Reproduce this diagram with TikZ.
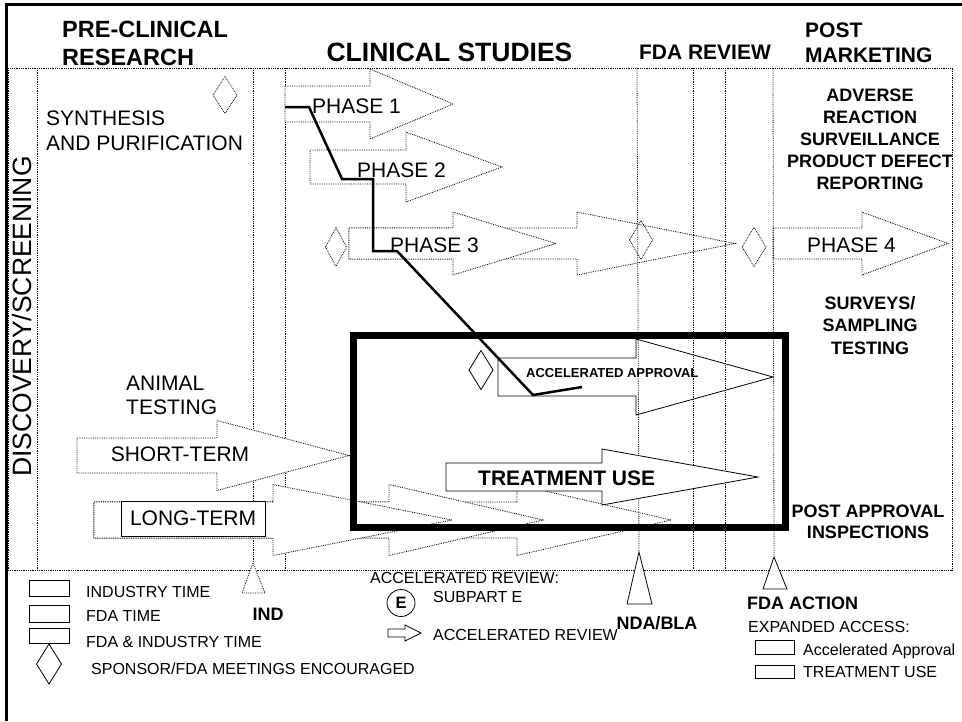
\documentclass[tikz,border=0pt]{standalone}
\usepackage{fontspec}
\setmainfont{Liberation Sans}

% block arrow: [style]{left}{neck}{tip}{centre y}{half body}{half head}
\newcommand{\blockarrow}[7][]{%
  \draw[#1] (#2,#5-#6) -- (#3,#5-#6) -- (#3,#5-#7) -- (#4,#5)
    -- (#3,#5+#7) -- (#3,#5+#6) -- (#2,#5+#6) -- cycle;}
% meeting diamond: [style]{x}{y}{width}{height}
\newcommand{\meetdiamond}[5][]{%
  \draw[#1] (#2-#4/2,#3) -- (#2,#3-#5/2) -- (#2+#4/2,#3) -- (#2,#3+#5/2) -- cycle;}

\begin{document}
\begin{tikzpicture}
  [x=1pt, y=-1pt,
   txt/.style={inner sep=0pt, font=\fontsize{21}{25}\selectfont},
   head/.style={inner sep=0pt, font=\bfseries\fontsize{21}{25}\selectfont},
   bold/.style={inner sep=0pt, align=center, font=\bfseries\fontsize{18}{22}\selectfont},
   legend/.style={inner sep=0pt, anchor=west, font=\fontsize{16}{19}\selectfont},
   grid/.style={densely dotted, line width=0.8pt},
   dotarrow/.style={densely dotted, line width=0.8pt, fill=white},
   fullarrow/.style={line width=0.8pt, fill=white},
   box/.style={line width=0.8pt},
   stair/.style={line width=2.5pt},
   frame/.style={line width=3pt}]

  \useasboundingbox (0,0) rectangle (962,721);

  % frame and columns
  \draw[frame] (6.5,721) -- (6.5,4.5) -- (962,4.5);
  \draw[grid] (8,68) rectangle (952,570);
  \draw[grid] (37,68) -- (37,570);
  \coordinate (ind) at (253,563);
  \coordinate (nda) at (639,552);
  \coordinate (fdaact) at (774,557);
  \draw[grid] (253,68) -- (ind);
  \draw[grid] (285,68) -- (285,570);

  % phases
  \blockarrow[dotarrow]{285}{370}{453}{104}{18}{35}
  \blockarrow[dotarrow]{310}{406}{502}{167}{17}{35}
  \blockarrow[dotarrow]{349}{577}{735}{243.5}{15.5}{31.5}
  \blockarrow[dotarrow]{349}{453}{556}{243.5}{15.5}{31.5}
  \blockarrow[dotarrow]{773}{862}{948}{243.5}{15.5}{31.5}

  % animal testing
  \blockarrow[dotarrow]{77}{217}{349}{455.5}{17.5}{35}
  \blockarrow[dotarrow]{94}{517}{671}{520}{18}{35.5}
  \blockarrow[dotarrow]{94}{389}{543}{520}{18}{35.5}
  \blockarrow[dotarrow]{94}{273}{452}{520}{18}{35.5}
  \draw[box, fill=white] (121,501) rectangle (265,536);

  % accelerated approval
  \blockarrow[fullarrow]{498}{636}{773}{377}{19}{38}

  % fda review
  \draw[grid] (637,68) -- (nda);
  \draw[grid] (693,68) -- (693,570);
  \draw[grid] (725,68) -- (725,570);
  \draw[grid] (773,68) -- (fdaact);

  % treatment use
  \blockarrow[fullarrow]{446}{602}{758}{477}{14}{28}

  % meetings
  \meetdiamond[grid]{225}{95}{24}{37}
  \meetdiamond[grid]{336}{247}{21}{39}
  \meetdiamond[grid]{641}{240}{23}{39}
  \meetdiamond[grid]{754}{247}{24}{39}
  \meetdiamond[box, fill=white]{481}{370}{24}{39}

  \draw[line width=7pt] (353,335) rectangle (785,527);
  \draw[stair] (285,107) -- (309,107) -- (342,179) -- (373,179) -- (373,251)
    -- (397,251) -- (533,395) -- (582,387);

  % headings
  \node[head, anchor=west, align=left, font=\bfseries\fontsize{23.5}{28}\selectfont] (precl) at (62,43) {PRE-CLINICAL\\RESEARCH};
  \node[head, font=\bfseries\fontsize{26.5}{30}\selectfont] (clin) at (449.5,52) {CLINICAL STUDIES};
  \node[head] (fdarev) at (705,52) {FDA REVIEW};
  \node[head, anchor=west, align=left] (postm) at (805,42.5) {POST\\MARKETING};
  \node[txt, rotate=90, font=\fontsize{26.5}{30}\selectfont] (disc) at (22.5,316.5) {DISCOVERY/SCREENING};

  \node[txt, anchor=west, align=left] (synth) at (46,130.5) {SYNTHESIS\\AND PURIFICATION};
  \node[txt, anchor=west, align=left, font=\fontsize{21}{24}\selectfont] (animal) at (126,395) {ANIMAL\\TESTING};
  \node[txt] (short) at (180,454) {SHORT-TERM};
  \node[txt] (long) at (193,518) {LONG-TERM};
  \node[txt, anchor=west] (ph1) at (312,106) {PHASE 1};
  \node[txt, anchor=west] (ph2) at (357,170) {PHASE 2};
  \node[txt, anchor=west] (ph3) at (390,245) {PHASE 3};
  \node[txt, anchor=west] (ph4) at (807,245) {PHASE 4};
  \node[inner sep=0pt, anchor=west, font=\bfseries\fontsize{13}{15}\selectfont] (accel) at (526,373) {ACCELERATED APPROVAL};
  \node[head, anchor=west] (treat) at (478,478) {TREATMENT USE};

  \node[bold] (adverse) at (870,139) {ADVERSE\\REACTION\\SURVEILLANCE\\PRODUCT DEFECT\\REPORTING};
  \node[bold, font=\bfseries\fontsize{18}{22.5}\selectfont] (survey) at (870,325.5) {SURVEYS/\\SAMPLING\\TESTING};
  \node[bold, font=\bfseries\fontsize{18}{21}\selectfont] (inspect) at (868,521.5) {POST APPROVAL\\INSPECTIONS};

  % legend
  \draw[box] (29,580) rectangle (69,596);
  \draw[box] (29,605) rectangle (69,622);
  \draw[box] (29,628) rectangle (69,643);
  \meetdiamond[box]{49}{664}{25}{40}
  \node[legend] (indtime) at (86,592) {INDUSTRY TIME};
  \node[legend] (fdatime) at (86,616) {FDA TIME};
  \node[legend] (bothtime) at (86,642) {FDA \& INDUSTRY TIME};
  \node[legend] (meet) at (91,669) {SPONSOR/FDA MEETINGS ENCOURAGED};

  \draw[grid, fill=white] (ind) -- (265,593) -- (242,593) -- cycle;
  \draw[box, fill=white] (nda) -- (652,604) -- (627,604) -- cycle;
  \draw[box, fill=white] (fdaact) -- (787,589) -- (763,589) -- cycle;
  \node[bold] (indlbl) at (268,614) {IND};
  \node[bold] (ndalbl) at (657,623) {NDA/BLA};
  \node[bold, anchor=west] (actlbl) at (747,603) {FDA ACTION};

  \node[legend] (accrev) at (370,578) {ACCELERATED REVIEW:};
  \node[inner sep=0pt, font=\bfseries\fontsize{16.5}{19}\selectfont] (subE) at (401,603) {E};
  \draw[box] (subE.center) ellipse [x radius=14, y radius=13.5];
  \node[legend] (subpart) at (433,597) {SUBPART E};
  \blockarrow[fullarrow]{388}{405}{421}{633}{4}{8}
  \node[legend] (accrev2) at (433,635) {ACCELERATED REVIEW};

  \node[legend] (expand) at (748,627) {EXPANDED ACCESS:};
  \draw[box] (755,640) rectangle (794,654);
  \draw[box] (755,665) rectangle (794,678);
  \node[legend] (aalbl) at (803,651) {Accelerated Approval};
  \node[legend] (tulbl) at (803,672) {TREATMENT USE};
\end{tikzpicture}
\end{document}
